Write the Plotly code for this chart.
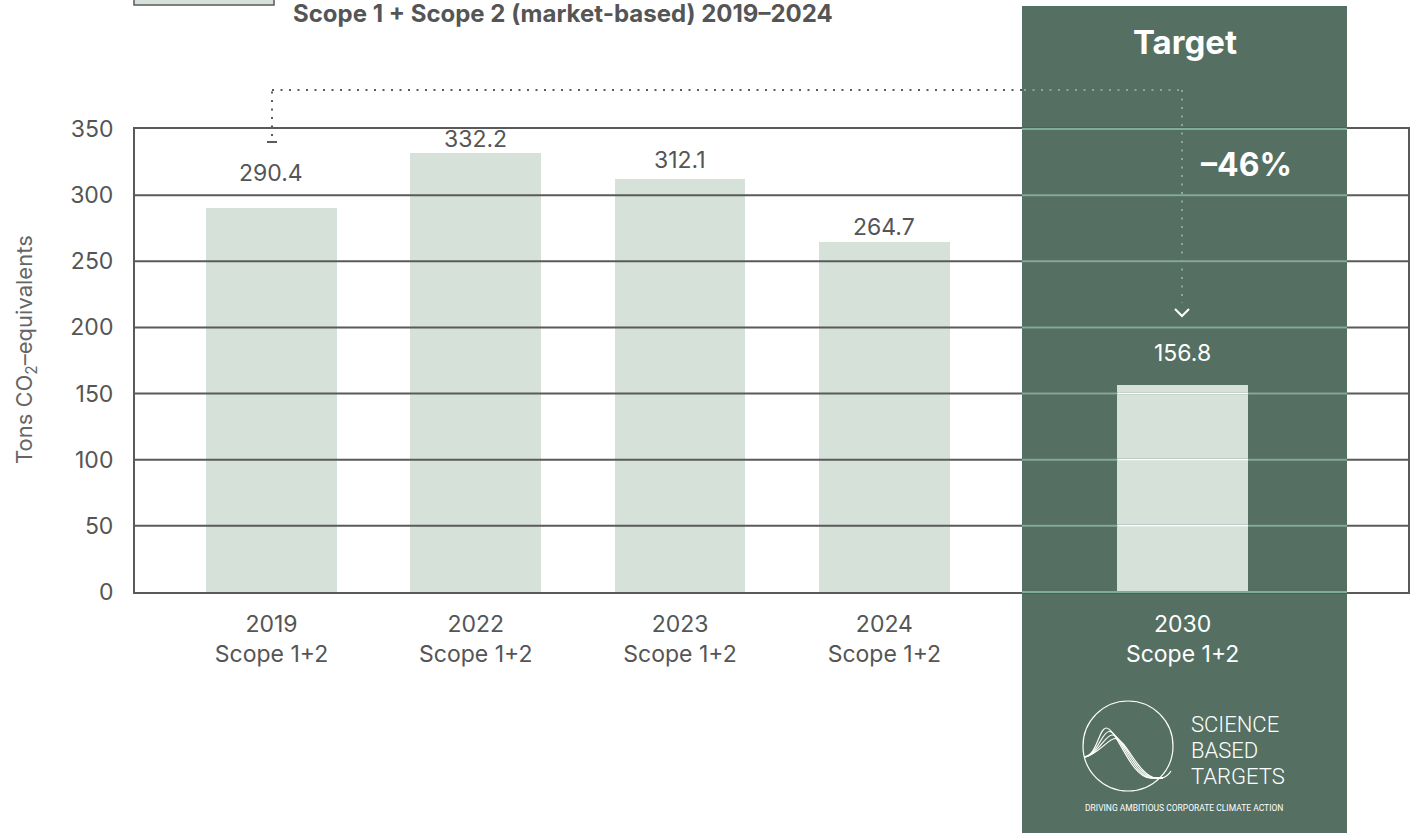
import plotly.graph_objects as go

W, H = 1413, 833

# ---------------- data ----------------
years = ["2019", "2022", "2023", "2024", "2030"]
scope_label = "Scope 1+2"
emissions = [290.4, 332.2, 312.1, 264.7, 156.8]
y_ticks = [0, 50, 100, 150, 200, 250, 300, 350]
reduction_label = "–46%"
title_text = "Scope 1 + Scope 2 (market-based) 2019–2024"
target_text = "Target"
y_title = "Tons CO<sub>2</sub>–equivalents"
logo_lines = ["SCIENCE", "BASED", "TARGETS"]
logo_tagline = "DRIVING AMBITIOUS CORPORATE CLIMATE ACTION"

# ---------------- style / layout constants ----------------
slots = [0, 1, 2, 3, 4.46]          # horizontal slot of each bar
bar_w = 0.64
label_lift = [35, 14, 19, 15, 32]   # px gap of value labels above bar tops
BAR = "#d6e1da"
DARK_GREEN = "#557062"
LIGHT_GREEN = "#80ad98"
GRID = "#5a5a5a"
TXT = "#555555"
FONT = "Inter"


def X(px):
    return px / W


def Y(py):
    return 1 - py / H


x_dom = [X(135), X(1408)]
y_dom = [Y(592), Y(129)]
x_range = [-0.668, 5.563]
target_x0, target_x1 = X(1022), X(1347)

label_colors = [TXT] * (len(years) - 1) + ["white"]
ticktext = [f"{y}<br>{scope_label}" for y in years[:-1]] + [
    f'<span style="color:white">{years[-1]}</span><br>'
    f'<span style="color:white">{scope_label}</span>'
]

fig = go.Figure()
fig.add_trace(go.Bar(
    x=slots, y=emissions, width=bar_w,
    marker=dict(color=BAR, line=dict(width=0)),
    hoverinfo="skip",
))

shapes = []
# dark target panel
shapes.append(dict(type="rect", xref="paper", yref="paper", layer="below",
                   x0=target_x0, x1=target_x1, y0=Y(6), y1=Y(840),
                   fillcolor=DARK_GREEN, line=dict(width=0)))
# legend swatch (cut off at the top)
shapes.append(dict(type="rect", xref="paper", yref="paper", layer="above",
                   x0=X(134), x1=X(274), y0=Y(-20), y1=Y(5),
                   fillcolor=BAR, line=dict(color=GRID, width=1.5)))
# grid lines drawn above bars
for t in y_ticks[1:-1]:
    shapes.append(dict(type="line", xref="paper", yref="y", layer="above",
                       x0=x_dom[0], x1=x_dom[1], y0=t, y1=t,
                       line=dict(color=GRID, width=2)))
# light green grid inside target panel
for t in y_ticks[1:-1]:
    shapes.append(dict(type="line", xref="paper", yref="y", layer="above",
                       x0=target_x0, x1=target_x1, y0=t, y1=t,
                       line=dict(color=LIGHT_GREEN, width=2)))
for d in (0, 1):
    shapes.append(dict(type="line", xref="paper", yref="y domain", layer="above",
                       x0=target_x0, x1=target_x1, y0=d, y1=d,
                       line=dict(color=LIGHT_GREEN, width=2)))
# white grid across the target bar
tx = slots[-1]
for t in y_ticks[1:-1]:
    if t < emissions[-1]:
        shapes.append(dict(type="line", xref="x", yref="y", layer="above",
                           x0=tx - bar_w / 2, x1=tx + bar_w / 2, y0=t, y1=t,
                           line=dict(color="white", width=2)))

# dotted connector from 2019 to 2030 target
dot = "2px,6.5px"
shapes += [
    dict(type="line", xref="paper", yref="paper", layer="above",
         x0=X(267), x1=X(277), y0=Y(142), y1=Y(142), line=dict(color=GRID, width=2)),
    dict(type="line", xref="paper", yref="paper", layer="above",
         x0=X(272), x1=X(272), y0=Y(136), y1=Y(90), line=dict(color=GRID, width=2, dash=dot)),
    dict(type="line", xref="paper", yref="paper", layer="above",
         x0=X(272), x1=X(1022), y0=Y(90), y1=Y(90), line=dict(color=GRID, width=2, dash=dot)),
    dict(type="line", xref="paper", yref="paper", layer="above",
         x0=X(1024), x1=X(1182), y0=Y(90), y1=Y(90), line=dict(color=LIGHT_GREEN, width=2, dash=dot)),
    dict(type="line", xref="paper", yref="paper", layer="above",
         x0=X(1182), x1=X(1182), y0=Y(90), y1=Y(303), line=dict(color=LIGHT_GREEN, width=2, dash=dot)),
    dict(type="path", xref="paper", yref="paper", layer="above",
         path=f"M {X(1175)} {Y(309)} L {X(1182)} {Y(316)} L {X(1189)} {Y(309)}",
         line=dict(color="white", width=2)),
]

# Science Based Targets logo
cx, cy, r = 1128, 746, 45
shapes.append(dict(type="circle", xref="paper", yref="paper", layer="above",
                   x0=X(cx - r), x1=X(cx + r), y0=Y(cy + r), y1=Y(cy - r),
                   line=dict(color="white", width=1.2)))


def P(x, y):
    return f"{X(x)} {Y(y)}"


for k in range(4):
    px = 1106 + k * 3
    py = 728 + k * 3.5
    path = (f"M {P(1084, 757)} C {P(1097, 756)} {P(px - 7, py)} {P(px, py)} "
            f"C {P(px + 11, py)} {P(1130 + k * 3, 777)} {P(1150 + k * 2, 778)} "
            f"L {P(1163, 778)}")
    shapes.append(dict(type="path", xref="paper", yref="paper", layer="above",
                       path=path, line=dict(color="white", width=1.2)))
shapes.append(dict(type="path", xref="paper", yref="paper", layer="above",
                   path=f"M {P(1150, 778)} C {P(1160, 779)} {P(1166, 779)} {P(1171, 771)}",
                   line=dict(color="white", width=1.2)))

annotations = [
    dict(text=title_text, x=X(291), y=Y(13), xref="paper", yref="paper",
         xanchor="left", yanchor="middle", showarrow=False,
         font=dict(family=FONT, size=24, color=TXT, weight=700)),
    dict(text=target_text, x=X(1185), y=Y(42), xref="paper", yref="paper",
         xanchor="center", yanchor="middle", showarrow=False,
         font=dict(family=FONT, size=33, color="white", weight=700)),
    dict(text=reduction_label, x=X(1246), y=Y(164), xref="paper", yref="paper",
         xanchor="center", yanchor="middle", showarrow=False,
         font=dict(family=FONT, size=32, color="white", weight=700)),
    dict(text=y_title, x=X(26), y=Y(350), xref="paper", yref="paper",
         xanchor="center", yanchor="middle", showarrow=False, textangle=-90,
         font=dict(family=FONT, size=22, color="#666666")),
    dict(text=logo_tagline, x=X(1184), y=Y(808), xref="paper", yref="paper",
         xanchor="center", yanchor="middle", showarrow=False,
         font=dict(family="Roboto", size=8.5, color="white")),
]
for i, line in enumerate(logo_lines):
    annotations.append(dict(text=line, x=X(1189), y=Y(724 + i * 26), xref="paper", yref="paper",
                            xanchor="left", yanchor="middle", showarrow=False,
                            font=dict(family="Roboto", size=22, color="white", weight=300)))
# value labels above bars (positioned through the axes)
for xs, v, lift, col in zip(slots, emissions, label_lift, label_colors):
    annotations.append(dict(text=f"{v:.1f}", x=xs, y=v, xref="x", yref="y",
                            xanchor="center", yanchor="middle", yshift=lift,
                            showarrow=False,
                            font=dict(family=FONT, size=23, color=col)))

fig.update_layout(
    width=W, height=H, autosize=False,
    margin=dict(l=0, r=0, t=0, b=0, pad=0),
    paper_bgcolor="white", plot_bgcolor="rgba(0,0,0,0)",
    showlegend=False, bargap=0,
    font=dict(family=FONT, color=TXT),
    shapes=shapes, annotations=annotations,
    xaxis=dict(domain=x_dom, range=x_range, tickmode="array", tickvals=slots,
               ticktext=ticktext, showgrid=False, zeroline=False,
               showline=True, mirror=True, linecolor=GRID, linewidth=2,
               ticks="", ticklabelstandoff=10, automargin=False,
               tickfont=dict(size=23, color=TXT, family=FONT), fixedrange=True),
    yaxis=dict(domain=y_dom, range=[0, 350], tickmode="array", tickvals=y_ticks,
               showgrid=False, zeroline=False, showline=True, mirror=True,
               linecolor=GRID, linewidth=2, ticks="", ticklabelstandoff=15,
               automargin=False, tickfont=dict(size=23, color=TXT, family=FONT),
               fixedrange=True),
)

fig.write_html("out.html")
